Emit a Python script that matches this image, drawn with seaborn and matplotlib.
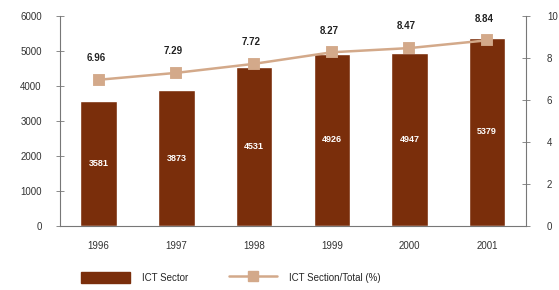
import matplotlib
matplotlib.use("Agg")
import matplotlib.pyplot as plt
import seaborn as sns
from matplotlib.patches import Patch
from matplotlib.lines import Line2D

years = ["1996", "1997", "1998", "1999", "2000", "2001"]
ict_sector = [3581, 3873, 4531, 4926, 4947, 5379]
ict_share = [6.96, 7.29, 7.72, 8.27, 8.47, 8.84]

bar_color = "#7a2e0b"
line_color = "#d3a98a"
axis_gray = "#777777"

sns.set_style("white")
plt.rcParams["font.family"] = ["Liberation Sans", "DejaVu Sans"]

fig = plt.figure(figsize=(5.59, 2.90), dpi=100)
ax = fig.add_axes([0.107, 0.221, 0.834, 0.724])

sns.barplot(x=years, y=ict_sector, color=bar_color, width=0.47,
            saturation=1, ax=ax)
ax.set_ylim(0, 6000)
ax.set_xlim(-0.5, 5.5)
ax.set_yticks(range(0, 6001, 1000))

# white labels in the middle of each bar
for i, v in enumerate(ict_sector):
    ax.text(i, v / 2, str(v), color="white", fontsize=6.5, fontweight="bold",
            ha="center", va="center")

ax2 = ax.twinx()
sns.pointplot(x=years, y=ict_share, color=line_color, markers="s",
              markersize=7, linewidth=1.8, ax=ax2)
ax2.set_ylim(0, 10)
ax2.set_xlim(-0.5, 5.5)
ax2.set_yticks(range(0, 11, 2))

for i, v in enumerate(ict_share):
    ax2.annotate(f"{v:.2f}", (i, v), xytext=(-2, 12), textcoords="offset points",
                 ha="center", va="bottom", fontsize=7, fontweight="bold",
                 color="#222222")

for a in (ax, ax2):
    a.set_xlabel("")
    a.set_ylabel("")
    a.spines["top"].set_visible(False)
    for s in ("left", "right", "bottom"):
        a.spines[s].set_color(axis_gray)
        a.spines[s].set_linewidth(0.8)
    a.tick_params(axis="y", labelsize=7, colors="#333333", direction="inout",
                  length=6, width=0.6, pad=10)

ax.spines["right"].set_visible(False)
ax2.spines["left"].set_visible(False)
ax2.spines["bottom"].set_visible(False)
ax.tick_params(axis="y", color=axis_gray)
ax2.tick_params(axis="y", color=axis_gray, pad=12)

# category labels at centers, tick marks between categories
ax.set_xticks(range(len(years)))
ax.set_xticklabels(years)
ax.tick_params(axis="x", labelsize=7, colors="#333333", length=0, pad=11)
ax.set_xticks([0.5, 1.5, 2.5, 3.5, 4.5], minor=True)
ax.tick_params(axis="x", which="minor", direction="inout", length=5,
               width=0.6, color=axis_gray)

handles = [
    Patch(facecolor=bar_color, edgecolor=bar_color, label="ICT Sector"),
    Line2D([0], [0], color=line_color, lw=1.8, marker="s", markersize=7,
           label="ICT Section/Total (%)"),
]
fig.legend(handles=handles, loc="lower left", bbox_to_anchor=(0.13, -0.005),
           ncol=2, frameon=False, fontsize=7, handlelength=5,
           handleheight=1.3, columnspacing=4.2, handletextpad=1.2)

fig.savefig("out.png", dpi=100)
